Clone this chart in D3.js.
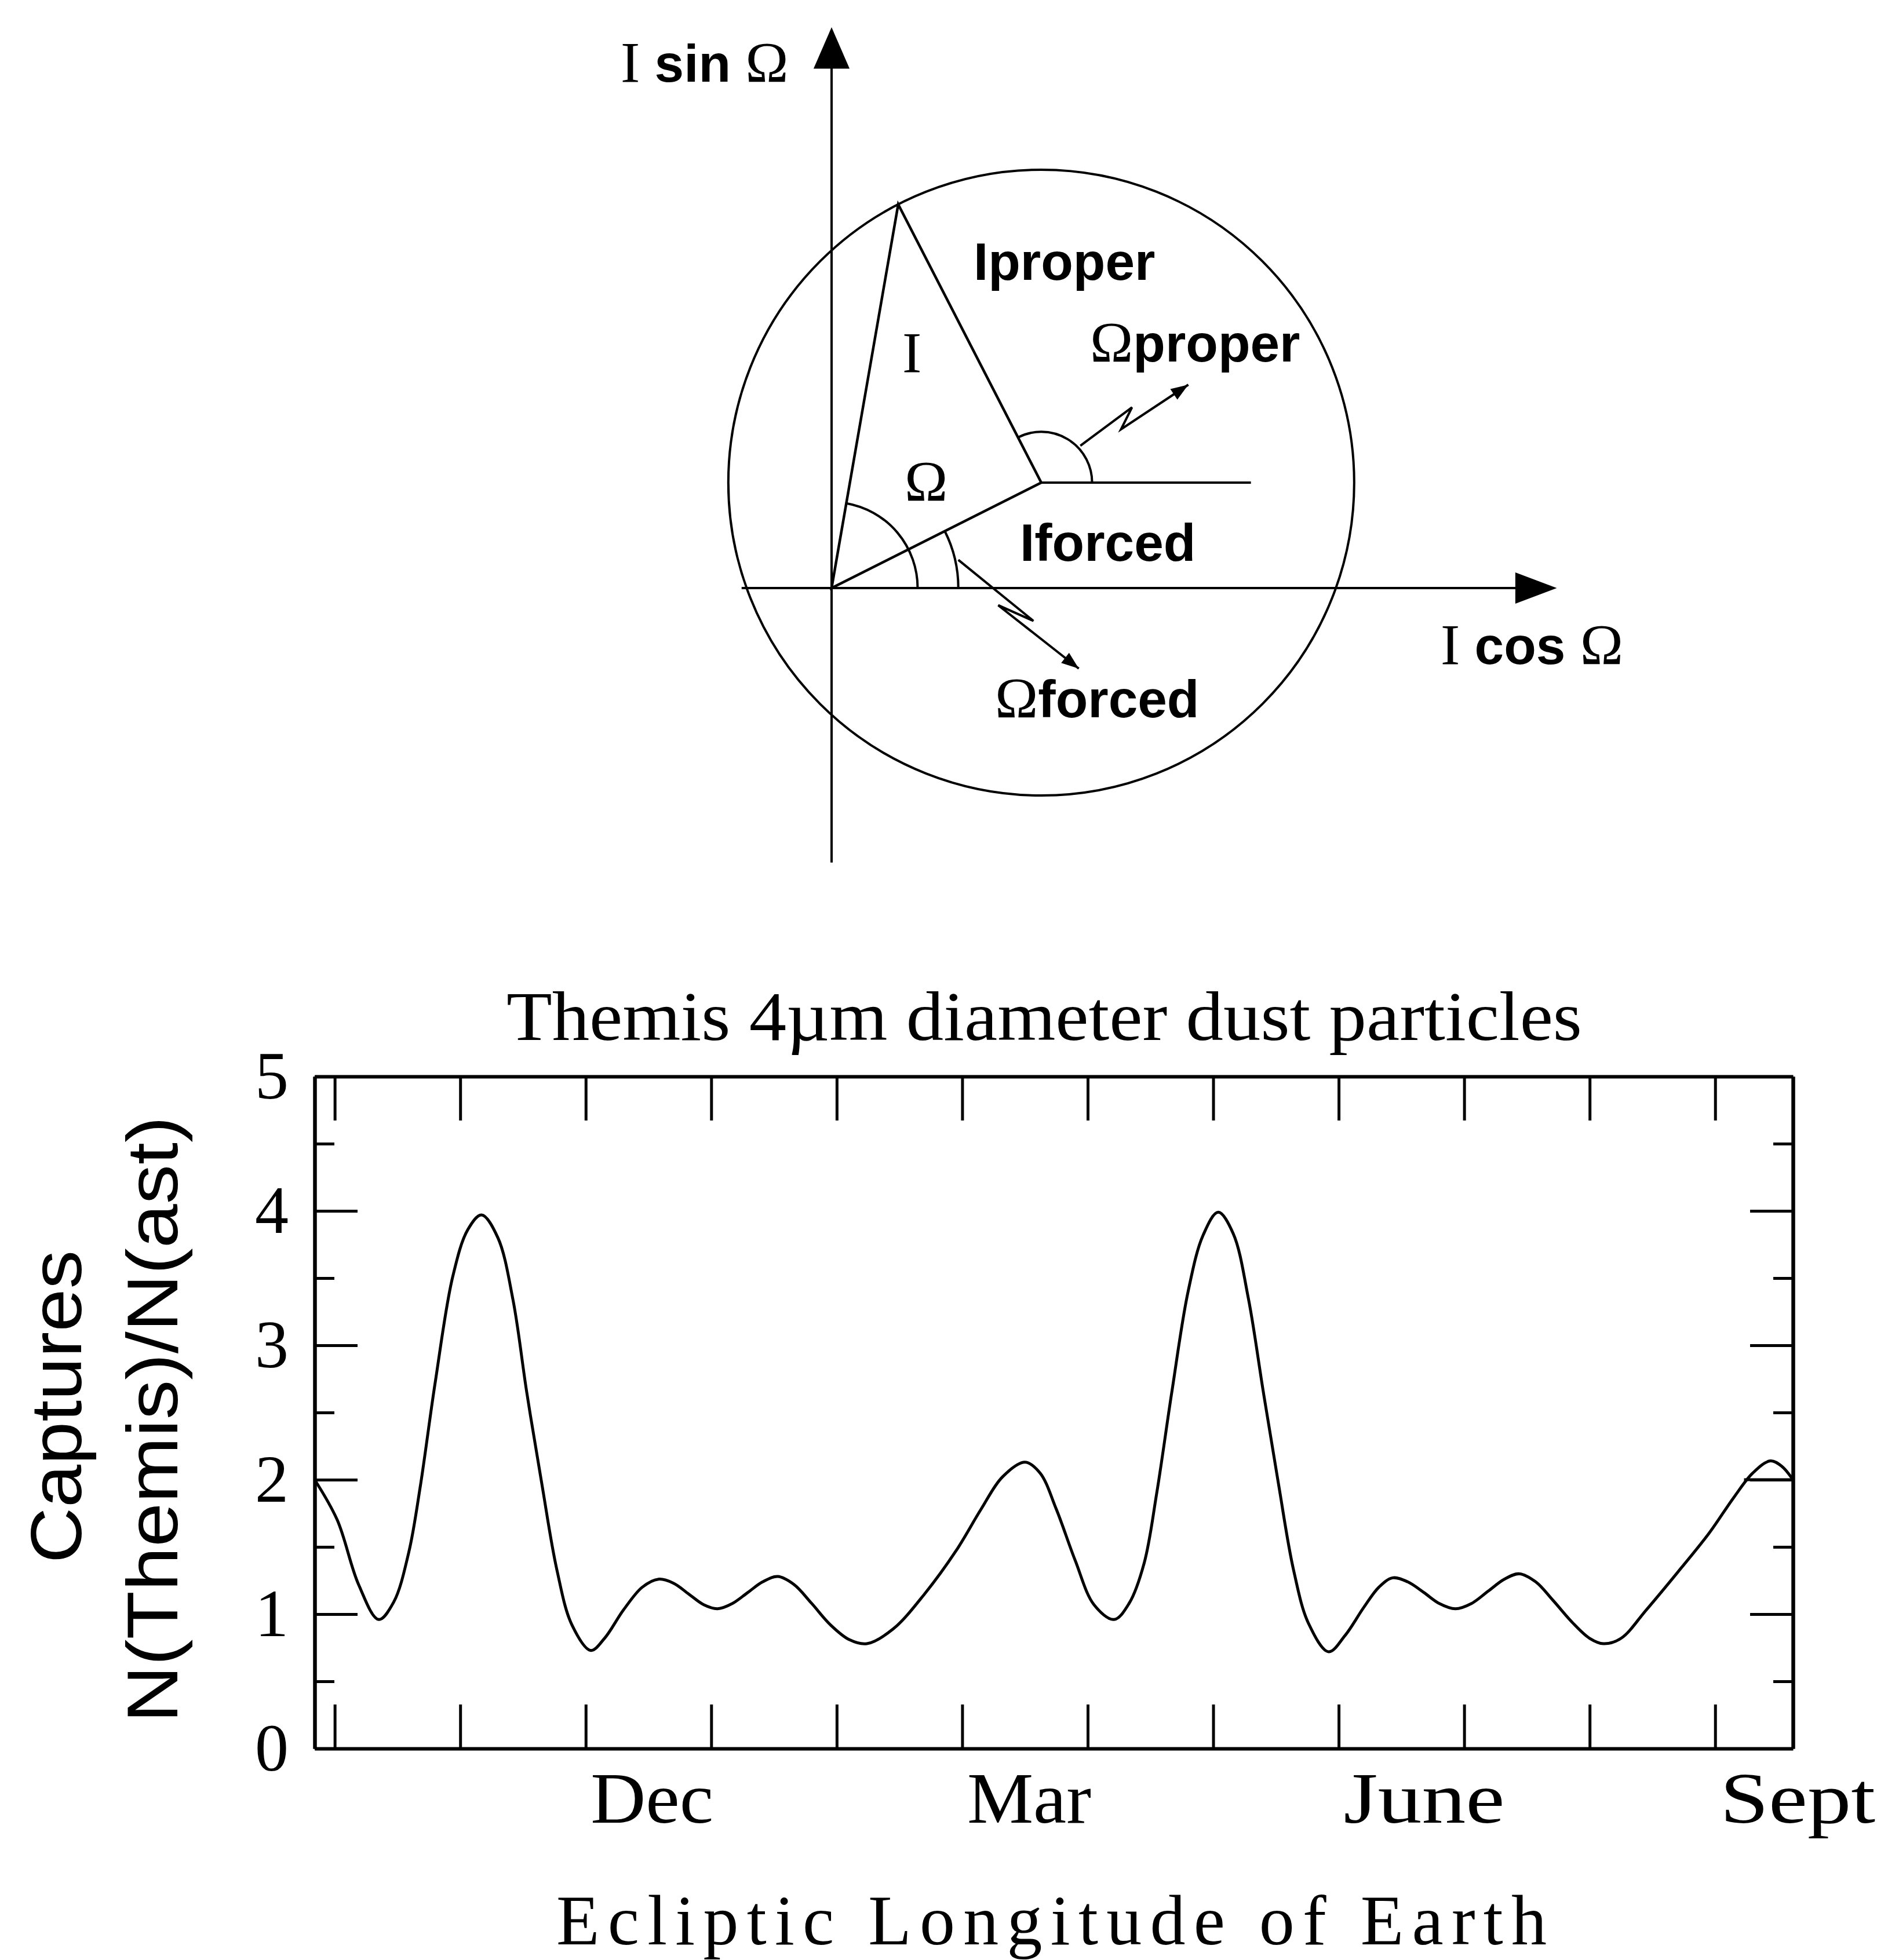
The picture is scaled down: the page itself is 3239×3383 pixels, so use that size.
<!DOCTYPE html>
<html>
<head>
<meta charset="utf-8">
<script src="https://cdn.jsdelivr.net/npm/d3@7"></script>
<style>
  body { margin: 0; background: #fff; }
  svg { display: block; }
</style>
</head>
<body>
<svg id="fig"></svg>
<script>

// ---- top panel: inclination vectors (arbitrary units), node angles in degrees
var forcedI = 3.0, forcedNode = 26.7;
var properI = 4.0, properNode = 117.2;

// ---- bottom panel: months from first tick (Oct), capture ratio
var monthPos = [-0.16, 0.02, 0.19, 0.35, 0.47, 0.59, 0.68, 0.80, 0.94, 1.06,
                1.17, 1.30, 1.42, 1.53, 1.65, 1.77, 1.89, 2.04, 2.15, 2.30,
                2.45, 2.58, 2.70, 2.82, 2.94, 3.05, 3.17, 3.29, 3.41, 3.53,
                3.66, 3.80, 3.95, 4.10, 4.24, 4.45, 4.70, 4.95, 5.15, 5.32,
                5.50, 5.62, 5.75, 5.90, 6.05, 6.21, 6.33, 6.45, 6.55, 6.67,
                6.80, 6.92, 7.04, 7.16, 7.28, 7.40, 7.52, 7.64, 7.76, 7.92,
                8.05, 8.20, 8.32, 8.43, 8.55, 8.68, 8.80, 8.93, 9.06, 9.19,
                9.32, 9.44, 9.57, 9.71, 9.86, 10.00, 10.11, 10.25, 10.45, 10.70,
                10.95, 11.15, 11.30, 11.44, 11.53, 11.62];
var captureRatio = [2.00, 1.70, 1.22, 0.96, 1.09, 1.46, 1.94, 2.72, 3.51, 3.86,
                    3.97, 3.80, 3.34, 2.65, 1.97, 1.33, 0.92, 0.73, 0.82, 1.03,
                    1.20, 1.26, 1.23, 1.15, 1.07, 1.04, 1.08, 1.16, 1.24, 1.28,
                    1.22, 1.08, 0.92, 0.81, 0.78, 0.89, 1.15, 1.47, 1.78, 2.02,
                    2.13, 2.05, 1.78, 1.40, 1.07, 0.96, 1.08, 1.38, 1.90, 2.65,
                    3.40, 3.82, 3.99, 3.83, 3.35, 2.65, 1.97, 1.33, 0.93, 0.72,
                    0.84, 1.05, 1.20, 1.27, 1.24, 1.16, 1.08, 1.04, 1.08, 1.17,
                    1.26, 1.30, 1.24, 1.10, 0.94, 0.82, 0.78, 0.82, 1.03, 1.31,
                    1.60, 1.87, 2.05, 2.14, 2.10, 2.00];
// the short closing segment at the right end
var flatPos = [11.23, 11.62];
var flatRatio = [2.0, 2.0];

var monthTicks = [0, 1, 2, 3, 4, 5, 6, 7, 8, 9, 10, 11];
var monthNames = ["", "", "Dec", "", "", "Mar", "", "", "June", "", "", "Sept"];
var yTicks = [0, 1, 2, 3, 4, 5];
var yMinor = [0.5, 1.5, 2.5, 3.5, 4.5];

var width = 3239, height = 3383;
var serif = '"Liberation Serif", "Times New Roman", serif';
var sans = '"Liberation Sans", Arial, sans-serif';

var svg = d3.select('#fig')
            .attr('width', width)
            .attr('height', height);
svg.append('rect').attr('width', width).attr('height', height).attr('fill', '#fff');

// =============== top diagram ===============
var ux = d3.scaleLinear().domain([0, 1]).range([1435, 1570]);
var uy = d3.scaleLinear().domain([0, 1]).range([1015, 880]);
var unit = 135;
var rad = function(a) { return a * Math.PI / 180; };

var C = [forcedI * Math.cos(rad(forcedNode)), forcedI * Math.sin(rad(forcedNode))];
var P = [C[0] + properI * Math.cos(rad(properNode)), C[1] + properI * Math.sin(rad(properNode))];
var totalNode = Math.atan2(P[1], P[0]) * 180 / Math.PI;

var diag = svg.append('g')
              .attr('fill', 'none')
              .attr('stroke', '#000')
              .attr('stroke-width', 4);

// axes with arrow heads
diag.append('line')
    .attr('x1', ux(0)).attr('y1', uy(-3.51))
    .attr('x2', ux(0)).attr('y2', uy(6.66));
diag.append('line')
    .attr('x1', ux(-1.15)).attr('y1', uy(0))
    .attr('x2', ux(8.76)).attr('y2', uy(0));
diag.append('path')
    .attr('fill', '#000').attr('stroke', 'none')
    .attr('d', `M${ux(0)},${uy(7.17)} L${ux(0.23)},${uy(6.64)} L${ux(-0.23)},${uy(6.64)} Z`);
diag.append('path')
    .attr('fill', '#000').attr('stroke', 'none')
    .attr('d', `M${ux(9.27)},${uy(0)} L${ux(8.74)},${uy(0.2)} L${ux(8.74)},${uy(-0.2)} Z`);

// circle of the proper inclination round the forced point
diag.append('circle')
    .attr('cx', ux(C[0])).attr('cy', uy(C[1]))
    .attr('r', properI * unit);

// vectors
diag.append('path')
    .attr('stroke-width', 4.5)
    .attr('d', `M${ux(0)},${uy(0)} L${ux(P[0])},${uy(P[1])} L${ux(C[0])},${uy(C[1])} Z`);
// reference line from forced point
diag.append('line')
    .attr('x1', ux(C[0])).attr('y1', uy(C[1]))
    .attr('x2', ux(C[0] + 2.68)).attr('y2', uy(C[1]));

// angle arcs
function arcPath(cx, cy, r, a0, a1) {
  var p = d3.path();
  p.arc(ux(cx), uy(cy), r * unit, -rad(a0), -rad(a1), true);
  return p.toString();
}
diag.append('path').attr('d', arcPath(0, 0, 1.1, 0, totalNode));
diag.append('path').attr('d', arcPath(0, 0, 1.62, 0, forcedNode));
diag.append('path').attr('d', arcPath(C[0], C[1], 0.65, 0, properNode));

// squiggly pointer arrows
var properPointer = [[3.18, 1.82], [3.84, 2.31], [3.70, 2.03], [4.56, 2.60]];
var forcedPointer = [[1.62, 0.36], [2.58, -0.42], [2.13, -0.22], [3.16, -1.03]];
function pointer(pts) {
  var line = d3.line().x(d => ux(d[0])).y(d => uy(d[1]));
  diag.append('path').attr('stroke-width', 4).attr('d', line(pts));
  var a = pts[pts.length - 2], b = pts[pts.length - 1];
  var ang = Math.atan2(uy(b[1]) - uy(a[1]), ux(b[0]) - ux(a[0]));
  var tx = ux(b[0]), ty = uy(b[1]), L = 30, w = 11;
  var bx = tx - L * Math.cos(ang), by = ty - L * Math.sin(ang);
  diag.append('path')
      .attr('fill', '#000').attr('stroke', 'none')
      .attr('d', `M${tx},${ty} L${bx - w * Math.sin(ang)},${by + w * Math.cos(ang)} L${bx + w * Math.sin(ang)},${by - w * Math.cos(ang)} Z`);
}
pointer(properPointer);
pointer(forcedPointer);

// labels (serif I and Omega, sans words)
function label(x, y, parts) {
  var t = svg.append('text')
             .attr('x', x).attr('y', y)
             .attr('fill', '#000');
  parts.forEach(function(p) {
    t.append('tspan')
     .style('font-family', p[1] === 's' ? serif : sans)
     .style('font-size', p[1] === 's' ? '100px' : '91px')
     .style('font-weight', p[1] === 's' ? 'normal' : 'bold')
     .text(p[0]);
  });
  return t;
}
label(1071, 141, [['I', 's'], [' sin ', 'b'], ['\u03A9', 's']]);
label(2486, 1146, [['I', 's'], [' cos ', 'b'], ['\u03A9', 's']]);
label(1680, 483, [['Iproper', 'b']]);
label(1881, 624, [['\u03A9', 's'], ['proper', 'b']]);
label(1557, 642, [['I', 's']]);
label(1561, 864, [['\u03A9', 's']]);
label(1760, 968, [['Iforced', 'b']]);
label(1717, 1238, [['\u03A9', 's'], ['forced', 'b']]);

// =============== bottom chart ===============
var plotLeft = 543, plotRight = 3094, plotTop = 1858, plotBottom = 3018;

var x = d3.scaleLinear().domain([-0.16, 11.62]).range([plotLeft, plotRight]);
var y = d3.scaleLinear().domain([0, 5]).range([plotBottom, plotTop]);

function styleAxis(g) {
  g.select('.domain').attr('stroke-width', 6);
  g.selectAll('.tick line').attr('stroke-width', 5);
}

svg.append('g')
   .attr('transform', `translate(0,${plotTop})`)
   .call(d3.axisTop(x).tickValues(monthTicks).tickSize(-76).tickSizeOuter(0).tickFormat(''))
   .call(styleAxis);

var xb = svg.append('g')
   .attr('transform', `translate(0,${plotBottom})`)
   .call(d3.axisBottom(x).tickValues(monthTicks).tickSize(-76).tickSizeOuter(0)
           .tickFormat(function(d, i) { return monthNames[i]; }))
   .call(styleAxis);
xb.selectAll('.tick text')
  .attr('x', 8).attr('y', 128).attr('dy', 0)
  .attr('text-anchor', 'start')
  .style('font-family', serif)
  .style('font-size', '124px')
  .attr('textLength', function(d, i) { return [0, 0, 212, 0, 0, 214, 0, 0, 278, 0, 0, 268][i] || null; })
  .attr('lengthAdjust', 'spacingAndGlyphs');

var yl = svg.append('g')
   .attr('transform', `translate(${plotLeft},0)`)
   .call(d3.axisLeft(y).tickValues(yTicks).tickSize(-74).tickSizeOuter(0).tickPadding(45)
           .tickFormat(d3.format('d')))
   .call(styleAxis);
yl.selectAll('.tick text')
  .style('font-family', serif)
  .style('font-size', '116px');

svg.append('g')
   .attr('transform', `translate(${plotLeft},0)`)
   .call(d3.axisLeft(y).tickValues(yMinor).tickSize(-34).tickSizeOuter(0).tickFormat(''))
   .call(styleAxis);

svg.append('g')
   .attr('transform', `translate(${plotRight},0)`)
   .call(d3.axisRight(y).tickValues(yTicks).tickSize(-74).tickSizeOuter(0).tickFormat(''))
   .call(styleAxis);
svg.append('g')
   .attr('transform', `translate(${plotRight},0)`)
   .call(d3.axisRight(y).tickValues(yMinor).tickSize(-34).tickSizeOuter(0).tickFormat(''))
   .call(styleAxis);

// the curve
var curve = d3.line()
              .x(d => x(d[0]))
              .y(d => y(d[1]))
              .curve(d3.curveCatmullRom.alpha(0.5));

svg.append('path')
   .datum(d3.zip(monthPos, captureRatio))
   .attr('fill', 'none')
   .attr('stroke', '#000')
   .attr('stroke-width', 5)
   .attr('d', curve);

svg.append('path')
   .datum(d3.zip(flatPos, flatRatio))
   .attr('fill', 'none')
   .attr('stroke', '#000')
   .attr('stroke-width', 5)
   .attr('d', d3.line().x(d => x(d[0])).y(d => y(d[1])));

// title
svg.append('text')
   .attr('x', 1802)
   .attr('y', 1795)
   .attr('text-anchor', 'middle')
   .style('font-family', serif)
   .style('font-size', '120px')
   .attr('textLength', 1856)
   .attr('lengthAdjust', 'spacingAndGlyphs')
   .text('Themis 4\u00B5m diameter dust particles');

// x axis title
svg.append('text')
   .attr('x', 960)
   .attr('y', 3356)
   .style('font-family', serif)
   .style('font-size', '122px')
   .attr('textLength', 1709)
   .attr('lengthAdjust', 'spacing')
   .text('Ecliptic Longitude of Earth');

// y axis title, two lines
svg.append('text')
   .attr('transform', 'translate(140,2428) rotate(-90)')
   .attr('text-anchor', 'middle')
   .style('font-family', sans)
   .style('font-size', '124px')
   .attr('textLength', 540)
   .attr('lengthAdjust', 'spacingAndGlyphs')
   .text('Captures');

svg.append('text')
   .attr('transform', 'translate(306,2450) rotate(-90)')
   .attr('text-anchor', 'middle')
   .style('font-family', sans)
   .style('font-size', '124px')
   .attr('textLength', 1047)
   .attr('lengthAdjust', 'spacingAndGlyphs')
   .text('N(Themis)/N(ast)');

</script>
</body>
</html>
